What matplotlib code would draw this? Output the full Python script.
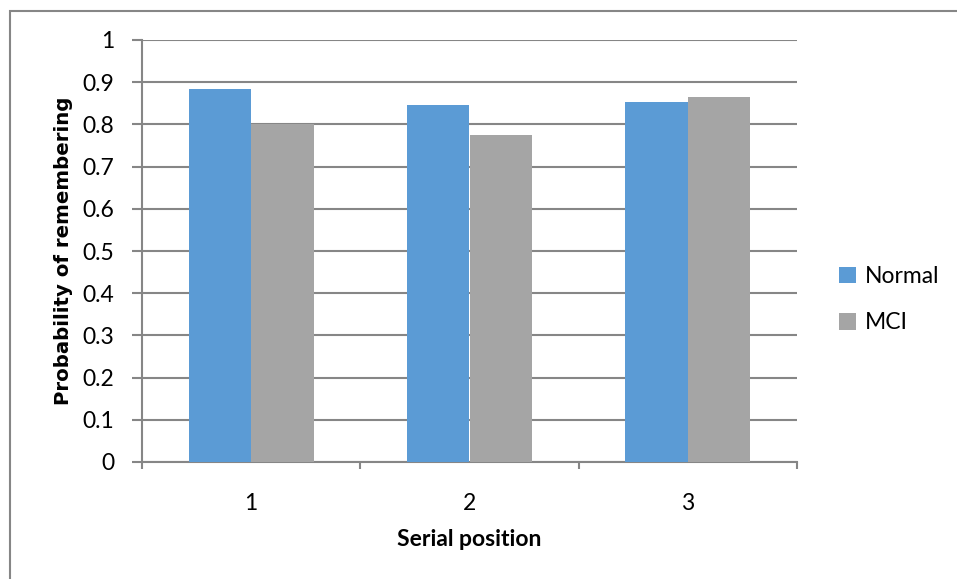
import numpy as np
import matplotlib.pyplot as plt
from matplotlib.patches import Rectangle

# serial-position recall, normal vs MCI
positions = ["1", "2", "3"]
normal = [0.884, 0.847, 0.852]
mci = [0.800, 0.776, 0.866]
series_names = ["Normal", "MCI"]

BLUE = "#5B9BD5"
GREY = "#A5A5A5"
AXIS = "#868686"

plt.rcParams["font.family"] = ["Lato", "DejaVu Sans"]

fig = plt.figure(figsize=(9.57, 5.79), dpi=100)
ax = fig.add_axes([142 / 957, 1 - 462 / 579, 655 / 957, 422 / 579])

# chart frame (only top and left edges fall inside the image)
fig.patches.append(Rectangle((10 / 957, -0.1), 1.2, 1 - 11 / 579 + 0.1,
                             transform=fig.transFigure, fill=False,
                             edgecolor=AXIS, lw=1.5, zorder=0))

x = np.arange(len(positions))
w = 1 / 3.5  # two bars per group, 150% gap
ax.bar(x - w / 2, normal, w, color=BLUE, label=series_names[0], zorder=3)
ax.bar(x + w / 2, mci, w, color=GREY, label=series_names[1], zorder=3)

ax.set_xlim(-0.5, len(positions) - 0.5)
ax.set_ylim(0, 1)
ax.set_yticks(np.arange(0, 1.01, 0.1))
ax.set_yticklabels(["0", "0.1", "0.2", "0.3", "0.4", "0.5", "0.6",
                    "0.7", "0.8", "0.9", "1"])
ax.set_xticks(x)
ax.set_xticklabels(positions)
ax.set_xticks(np.arange(-0.5, len(positions), 1), minor=True)

ax.grid(axis="y", color=AXIS, lw=1.5, zorder=0)
ax.set_axisbelow(True)
for s in ["top", "right"]:
    ax.spines[s].set_visible(False)
for s in ["left", "bottom"]:
    ax.spines[s].set_color(AXIS)
    ax.spines[s].set_linewidth(1.5)

ax.tick_params(axis="y", length=7, width=1.5, color=AXIS, pad=13,
               labelsize=16.5, labelcolor="black")
ax.tick_params(axis="x", which="major", length=0, pad=22,
               labelsize=16.5, labelcolor="black")
ax.tick_params(axis="x", which="minor", length=5, width=1.5, color=AXIS)

ax.set_ylabel("Probability of remembering", fontsize=14.2,
              fontweight="bold", family="DejaVu Sans", labelpad=7)
ax.set_xlabel("Serial position", fontsize=16.5, fontweight="bold",
              labelpad=11)

ax.legend(loc="center left", bbox_to_anchor=(1.047, 0.385), frameon=False,
          fontsize=16.5, handlelength=0.75, handleheight=0.75, borderpad=0,
          handletextpad=0.35, labelspacing=1.1)

fig.savefig("out.png", dpi=100, facecolor="white")
